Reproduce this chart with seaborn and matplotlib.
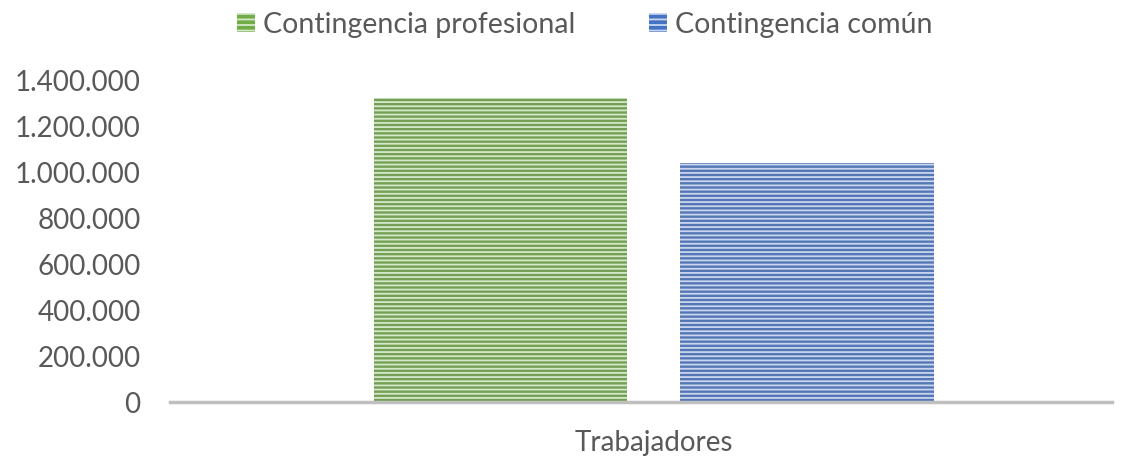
import matplotlib
matplotlib.use("Agg")
import matplotlib.pyplot as plt
import seaborn as sns
import pandas as pd
from matplotlib.ticker import FuncFormatter
from matplotlib.patches import Patch

categories = ["Trabajadores"]
series = ["Contingencia profesional", "Contingencia común"]
values = [1322000, 1039000]
colors = ["#70AD47", "#4472C4"]
hatch_colors = ["#D5E8C9", "#C9D6EE"]

df = pd.DataFrame({"cat": categories * 2, "serie": series, "valor": values})

sns.set_theme(style="white")
plt.rcParams["font.family"] = ["Lato", "DejaVu Sans"]
plt.rcParams["hatch.linewidth"] = 1.3

fig = plt.figure(figsize=(11.24, 4.58), dpi=100)
ax = fig.add_axes([0.151, 0.122, 0.838, 0.703])

sns.barplot(data=df, x="cat", y="valor", hue="serie", palette=colors,
            width=0.65, gap=0.173, ax=ax, legend=False)

for p, hc in zip(ax.patches, hatch_colors):
    p.set_hatch("----")
    p.set_edgecolor(hc)
    p.set_linewidth(0)

ax.set_ylim(0, 1400000)
ax.set_yticks(range(0, 1400001, 200000))
ax.yaxis.set_major_formatter(FuncFormatter(lambda v, _: f"{int(v):,}".replace(",", ".")))
ax.set_xlim(-0.514, 0.486)
ax.set_xlabel("")
ax.set_ylabel("")
for s in ["top", "right", "left"]:
    ax.spines[s].set_visible(False)
ax.spines["bottom"].set_color("#BFBFBF")
ax.spines["bottom"].set_linewidth(2.5)
ax.tick_params(axis="y", labelsize=20, colors="#595959", length=0, pad=21)
ax.tick_params(axis="x", labelsize=20, colors="#595959", length=0, pad=20)

handles = [Patch(facecolor=c, edgecolor=hc, hatch="---", linewidth=0)
           for c, hc in zip(colors, hatch_colors)]
leg = fig.legend(handles, series, loc="upper center", bbox_to_anchor=(0.52, 1.03),
                 ncol=2, frameon=False, fontsize=20.5, handlelength=0.65, handleheight=0.65,
                 handletextpad=0.25, columnspacing=2.6)
for t in leg.get_texts():
    t.set_color("#595959")

fig.savefig("out.png", dpi=100)
